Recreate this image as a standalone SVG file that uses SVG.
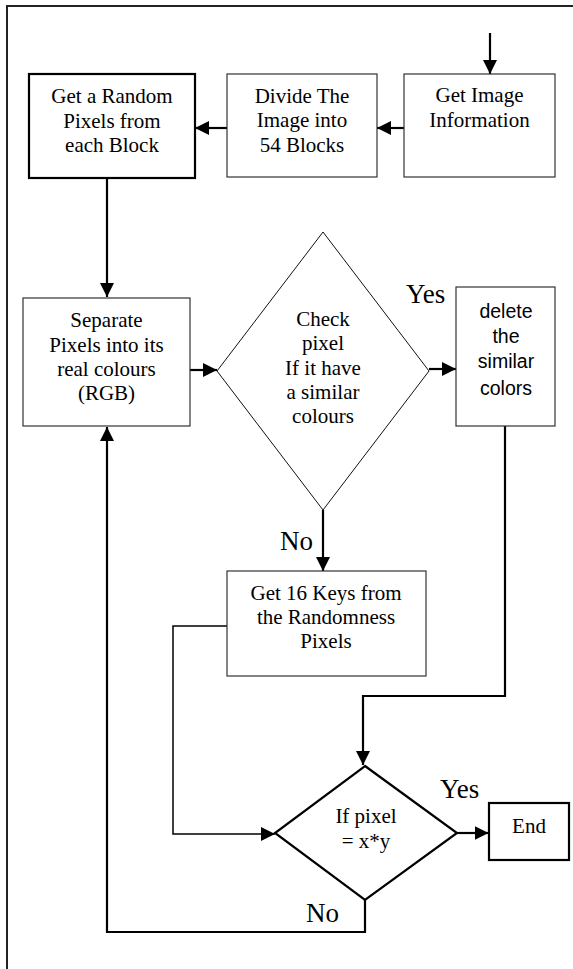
<svg xmlns="http://www.w3.org/2000/svg" width="573" height="969" viewBox="0 0 573 969">
<style>
.bg{fill:#fff}
.box{fill:#fff;stroke:#333;stroke-width:1.2}
.boxb{fill:#fff;stroke:#000;stroke-width:2.2}
.dia{fill:#fff;stroke:#111;stroke-width:1}
.diab{fill:#fff;stroke:#000;stroke-width:2.2}
.t{font-family:"Liberation Serif","Times New Roman",serif;font-size:21px;fill:#000;text-anchor:middle}
.s{font-family:"Liberation Sans",Arial,sans-serif;font-size:19.5px;fill:#000;text-anchor:middle}
.lbl{font-family:"Liberation Serif","Times New Roman",serif;font-size:27px;fill:#000}
.c{fill:none;stroke:#000;stroke-width:2.2}
.cthin{fill:none;stroke:#000;stroke-width:1.5}
.frame{fill:none;stroke:#222;stroke-width:2}
</style>
<defs>
<marker id="ah" markerUnits="userSpaceOnUse" markerWidth="15" markerHeight="14" refX="14" refY="7" orient="auto">
<path d="M0,0 L14,7 L0,14 z" fill="#000"/>
</marker>
</defs>
<rect class="bg" x="0" y="0" width="573" height="969"/>
<path class="frame" d="M7,969 V6 H573"/>

<g id="connectors">
<line class="c" x1="490" y1="33" x2="490" y2="74" marker-end="url(#ah)"/>
<line class="c" x1="404" y1="128" x2="377" y2="128" marker-end="url(#ah)"/>
<line class="c" x1="227" y1="128" x2="195" y2="128" marker-end="url(#ah)"/>
<line class="c" x1="107" y1="179" x2="107" y2="297" marker-end="url(#ah)"/>
<line class="c" x1="190" y1="370" x2="217" y2="370" marker-end="url(#ah)"/>
<line class="c" x1="429" y1="369" x2="456" y2="369" marker-end="url(#ah)"/>
<line class="c" x1="323" y1="510" x2="323" y2="571" marker-end="url(#ah)"/>
<polyline class="cthin" points="227,626 173,626 173,834 275,834" marker-end="url(#ah)"/>
<polyline class="c" points="505,426 505,696 363,696 363,765" marker-end="url(#ah)"/>
<line class="c" x1="457" y1="833" x2="488.5" y2="833" marker-end="url(#ah)"/>
<polyline class="c" points="365,900 365,932 107,932 107,427" marker-end="url(#ah)"/>
</g>

<g id="get-image-info">
<rect class="box" x="404" y="74" width="151" height="103"/>
<text class="t" x="479.5" y="102">Get Image</text>
<text class="t" x="479.5" y="127">Information</text>
</g>

<g id="divide-image">
<rect class="box" x="227" y="74" width="150" height="103"/>
<text class="t" x="302" y="103">Divide The</text>
<text class="t" x="302" y="127">Image into</text>
<text class="t" x="302" y="152">54 Blocks</text>
</g>

<g id="random-pixels">
<rect class="boxb" x="29" y="74" width="166" height="104"/>
<text class="t" x="112" y="103">Get a Random</text>
<text class="t" x="112" y="128">Pixels from</text>
<text class="t" x="112" y="152">each Block</text>
</g>

<g id="separate-pixels">
<rect class="box" x="23" y="298" width="167" height="128"/>
<text class="t" x="106.5" y="327">Separate</text>
<text class="t" x="106.5" y="352">Pixels into its</text>
<text class="t" x="106.5" y="376">real colours</text>
<text class="t" x="106.5" y="400">(RGB)</text>
</g>

<g id="check-pixel">
<polygon class="dia" points="323,232 429,371 323,510 217,371"/>
<text class="t" x="323" y="326">Check</text>
<text class="t" x="323" y="350">pixel</text>
<text class="t" x="323" y="375">If it have</text>
<text class="t" x="323" y="399">a similar</text>
<text class="t" x="323" y="423">colours</text>
</g>

<g id="delete-similar">
<rect class="box" x="456" y="287" width="99" height="139"/>
<text class="s" x="506" y="318">delete</text>
<text class="s" x="506" y="343">the</text>
<text class="s" x="506" y="368">similar</text>
<text class="s" x="506" y="395">colors</text>
</g>

<g id="get-keys">
<rect class="box" x="227" y="571" width="199" height="105"/>
<text class="t" x="326" y="600">Get 16 Keys from</text>
<text class="t" x="326" y="624">the Randomness</text>
<text class="t" x="326" y="648">Pixels</text>
</g>

<g id="if-pixel">
<polygon class="diab" points="365,766 457,833 365,900 275,833"/>
<text class="t" x="366" y="823">If pixel</text>
<text class="t" x="366" y="848">= x*y</text>
</g>

<g id="end">
<rect class="boxb" x="489" y="803" width="80" height="57"/>
<text class="t" x="529" y="833">End</text>
</g>

<g id="labels">
<text class="lbl" x="406" y="303">Yes</text>
<text class="lbl" x="280" y="550">No</text>
<text class="lbl" x="440" y="798">Yes</text>
<text class="lbl" x="306" y="922">No</text>
</g>
</svg>
